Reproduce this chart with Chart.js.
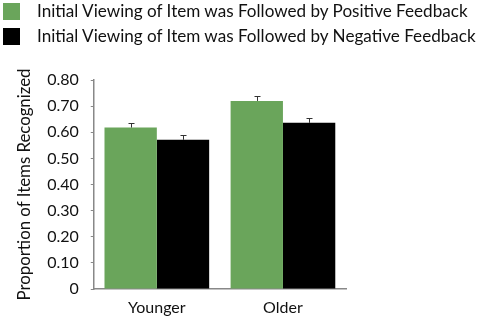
<!DOCTYPE html>
<html>
<head>
<meta charset="utf-8">
<script src="https://cdn.jsdelivr.net/npm/chart.js@4"></script>
<style>
  html, body { margin: 0; padding: 0; background: #fff; }
  #wrap { position: relative; width: 490px; height: 322px; }
  #legend { position: absolute; left: 0; top: 0; font-family: Lato, sans-serif; font-size: 17.1px; color: #111; }
  .item { position: absolute; left: 3px; white-space: nowrap; height: 17px; }
  .box { position: absolute; left: 0; top: 0; width: 17px; height: 17px; }
  .lbl { position: absolute; left: 34px; top: -2px; line-height: 20px; }
  canvas { position: absolute; left: 0; top: 0; }
</style>
</head>
<body>
<div id="wrap">
  <canvas id="chart" width="490" height="322"></canvas>
  <div id="legend"></div>
</div>
<script>
(function () {
  "use strict";

  // ---------- data ----------
  var categories = ["Younger", "Older"];
  var seriesNames = [
    "Initial Viewing of Item was Followed by Positive Feedback",
    "Initial Viewing of Item was Followed by Negative Feedback"
  ];
  var positive = [0.618, 0.720];
  var negative = [0.571, 0.636];
  var positiveErr = [0.019, 0.019];
  var negativeErr = [0.018, 0.018];
  var yTicks = [0, 0.1, 0.2, 0.3, 0.4, 0.5, 0.6, 0.7, 0.8];

  var colors = ["#6aa55b", "#000000"];

  // ---------- legend (html) ----------
  var legend = document.getElementById("legend");
  seriesNames.forEach(function (name, i) {
    var item = document.createElement("div");
    item.className = "item";
    item.style.top = (3 + i * 25) + "px";
    var box = document.createElement("div");
    box.className = "box";
    box.style.background = colors[i];
    var lbl = document.createElement("span");
    lbl.className = "lbl";
    lbl.textContent = name;
    item.appendChild(box);
    item.appendChild(lbl);
    legend.appendChild(item);
  });

  // ---------- error bars (upper only, small cap) ----------
  var errorBars = {
    id: "errorBars",
    afterDatasetsDraw: function (chart) {
      var ctx = chart.ctx;
      var yScale = chart.scales.y;
      ctx.save();
      ctx.strokeStyle = "#333";
      ctx.lineWidth = 1;
      chart.data.datasets.forEach(function (ds, di) {
        var meta = chart.getDatasetMeta(di);
        meta.data.forEach(function (bar, i) {
          var v = ds.data[i];
          var top = Math.round(yScale.getPixelForValue(v + ds.errors[i])) + 0.5;
          var base = yScale.getPixelForValue(v);
          var x = Math.round(bar.x) + 0.5;
          ctx.beginPath();
          ctx.moveTo(x, base);
          ctx.lineTo(x, top);
          ctx.moveTo(x - 3, top);
          ctx.lineTo(x + 3, top);
          ctx.stroke();
        });
      });
      ctx.restore();
    }
  };

  Chart.defaults.font.family = "Lato, sans-serif";
  Chart.defaults.color = "#111";

  new Chart(document.getElementById("chart").getContext("2d"), {
    type: "bar",
    data: {
      labels: categories,
      datasets: [
        { label: seriesNames[0], data: positive, errors: positiveErr, backgroundColor: colors[0] },
        { label: seriesNames[1], data: negative, errors: negativeErr, backgroundColor: colors[1] }
      ]
    },
    plugins: [errorBars],
    options: {
      responsive: false,
      animation: false,
      layout: { padding: { top: 80, right: 144, bottom: 0, left: 15 } },
      datasets: { bar: { categoryPercentage: 0.83, barPercentage: 1.0 } },
      plugins: { legend: { display: false }, tooltip: { enabled: false } },
      scales: {
        x: {
          grid: { display: false, drawTicks: false },
          border: { color: "#888", width: 1.5 },
          ticks: { font: { size: 16 }, padding: 9, color: "#111" },
          afterFit: function (axis) { axis.height = 33; }
        },
        y: {
          min: 0,
          max: 0.8,
          afterBuildTicks: function (axis) {
            axis.ticks = yTicks.map(function (v) { return { value: v }; });
          },
          grid: { drawOnChartArea: false, tickLength: 3, color: "#888" },
          border: { color: "#888", width: 1.5 },
          ticks: {
            font: { size: 16 },
            padding: 12,
            color: "#111",
            callback: function (v) { return v === 0 ? "0" : v.toFixed(2); }
          },
          title: {
            display: true,
            text: "Proportion of Items Recognized",
            font: { size: 16.8 },
            color: "#111",
            padding: { top: 0, bottom: 0 }
          }
        }
      }
    }
  });
})();
</script>
</body>
</html>
